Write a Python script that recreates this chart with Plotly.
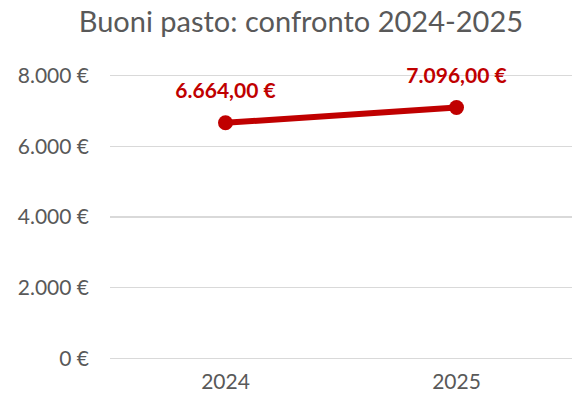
import plotly.graph_objects as go

years = ["2024", "2025"]
values = [6664.00, 7096.00]
y_ticks = [0, 2000, 4000, 6000, 8000]

EURO = "\u20ac"

def it_num(v, dec):
    s = f"{v:,.{dec}f}"
    return s.replace(",", "X").replace(".", ",").replace("X", ".")

RED = "#C00000"
FONT = "Lato, Open Sans, sans-serif"
GREY = "#595959"

labels = ["<b>" + it_num(v, 2) + " " + EURO + "</b>" for v in values]

fig = go.Figure()
fig.add_trace(go.Scatter(
    x=years, y=values, mode="lines+markers",
    line=dict(color=RED, width=6),
    marker=dict(color=RED, size=15),
    hoverinfo="skip", showlegend=False,
))
# data labels (transparent larger marker only used to offset the text)
fig.add_trace(go.Scatter(
    x=years, y=values, mode="markers+text",
    marker=dict(color="rgba(0,0,0,0)", size=30),
    text=labels, textposition="top center",
    textfont=dict(family=FONT, size=21, color=RED),
    hoverinfo="skip", showlegend=False, cliponaxis=False,
))

fig.update_layout(
    width=572, height=401,
    margin=dict(l=110, r=0, t=74, b=41),
    paper_bgcolor="white", plot_bgcolor="white",
    hovermode=False,
    title=dict(text="Buoni pasto: confronto 2024-2025", x=0.526, xanchor="center",
               y=0.945, yanchor="middle",
               font=dict(family=FONT, size=29, color=GREY)),
    xaxis=dict(type="category", range=[-0.5, 1.5], showgrid=False, showline=False,
               ticks="", ticklabelstandoff=7,
               tickfont=dict(family=FONT, size=21, color=GREY)),
    yaxis=dict(range=[-45, 8045], tickvals=y_ticks,
               ticktext=[it_num(t, 0) + " " + EURO for t in y_ticks],
               showgrid=True, gridcolor="#D9D9D9", gridwidth=1.3, zeroline=False,
               showline=False, ticks="", ticklabelstandoff=20,
               tickfont=dict(family=FONT, size=21, color=GREY)),
)

fig.write_html("out.html", config={"displayModeBar": False, "staticPlot": True},
               post_script="document.body.style.margin='0';document.body.style.overflow='hidden';")
